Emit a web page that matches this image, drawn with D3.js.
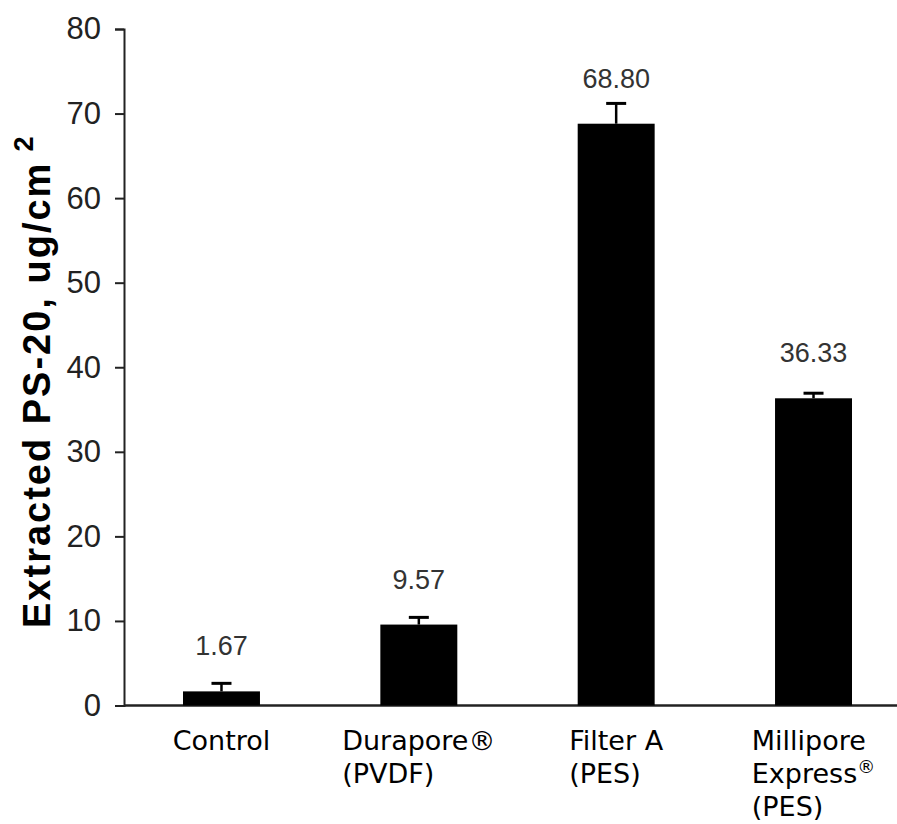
<!DOCTYPE html>
<html>
<head>
<meta charset="utf-8">
<script src="https://cdn.jsdelivr.net/npm/d3@7"></script>
<style>
  html, body { margin: 0; padding: 0; background: #fff; }
</style>
</head>
<body>
<div id="chart"></div>
<script>
// chart data
const categories = ["Control", "Durapore", "Filter A", "Millipore"]
const labelLines = [
    ["Control"],
    ["Durapore\u00AE", "(PVDF)"],
    ["Filter A", "(PES)"],
    ["Millipore", "Express^\u00AE", "(PES)"]
]
const values = [1.67, 9.57, 68.80, 36.33]
const errors = [0.95, 0.85, 2.4, 0.6]
const yTicks = [0, 10, 20, 30, 40, 50, 60, 70, 80]

const width = 897
const height = 824

const svg = d3.select("#chart")
    .append("svg")
    .attr("width", width)
    .attr("height", height)

const y = d3.scaleLinear().domain([0, 80]).range([705.5, 29])
const x = d3.scaleBand()
    .domain(categories)
    .range([183, 852])
    .paddingInner(0.61)
    .paddingOuter(0)

const data = categories.map((c, i) => ({cat: c, value: values[i], err: errors[i], lines: labelLines[i]}))

// y axis
const yAxis = svg.append("g")
    .attr("transform", "translate(124,0)")
    .call(d3.axisLeft(y).tickValues(yTicks).tickSize(9).tickPadding(14))
yAxis.select(".domain").attr("stroke", "#222").attr("stroke-width", 2)
yAxis.selectAll(".tick line").attr("stroke", "#222").attr("stroke-width", 2)
yAxis.selectAll(".tick text")
    .attr("font-family", "'Liberation Sans', Arial, sans-serif")
    .attr("font-size", 31)
    .attr("fill", "#222")

// baseline
svg.append("line")
    .attr("x1", 124).attr("x2", width)
    .attr("y1", y(0)).attr("y2", y(0))
    .attr("stroke", "#222")
    .attr("stroke-width", 2.5)

// bars
svg.append("g")
    .selectAll("rect")
    .data(data)
    .enter()
    .append("rect")
    .attr("x", d => x(d.cat))
    .attr("width", x.bandwidth())
    .attr("y", d => y(d.value))
    .attr("height", d => y(0) - y(d.value))
    .attr("fill", "#000")

// error bars (upper only)
const eb = svg.append("g")
    .selectAll("g")
    .data(data)
    .enter()
    .append("g")
eb.append("line")
    .attr("x1", d => x(d.cat) + x.bandwidth() / 2)
    .attr("x2", d => x(d.cat) + x.bandwidth() / 2)
    .attr("y1", d => y(d.value))
    .attr("y2", d => y(d.value + d.err))
    .attr("stroke", "#000")
    .attr("stroke-width", 2.5)
eb.append("line")
    .attr("x1", d => x(d.cat) + x.bandwidth() / 2 - 10)
    .attr("x2", d => x(d.cat) + x.bandwidth() / 2 + 10)
    .attr("y1", d => y(d.value + d.err))
    .attr("y2", d => y(d.value + d.err))
    .attr("stroke", "#000")
    .attr("stroke-width", 3)

// value labels
svg.append("g")
    .selectAll("text")
    .data(data)
    .enter()
    .append("text")
    .attr("x", d => x(d.cat) + x.bandwidth() / 2)
    .attr("y", d => y(d.value) - 36)
    .attr("text-anchor", "middle")
    .attr("font-family", "'Liberation Sans', Arial, sans-serif")
    .attr("font-size", 27)
    .attr("fill", "#333")
    .text(d => d3.format(".2f")(d.value))

// category labels: left aligned block, centred under its bar
const labels = svg.append("g")
    .selectAll("text")
    .data(data)
    .enter()
    .append("text")
    .attr("font-family", "'DejaVu Sans', Verdana, sans-serif")
    .attr("font-size", 27)
    .attr("fill", "#000")

labels.each(function (d) {
    const t = d3.select(this)
    const rows = d.lines.map((line, i) => {
        const row = t.append("tspan").attr("y", 750 + i * 33)
        if (line.includes("^")) {
            // "^" marks a small superscript part
            const [main, sup] = line.split("^")
            row.append("tspan").text(main)
            row.append("tspan").attr("font-size", 18).attr("dy", -10).text(sup)
        } else {
            row.text(line)
        }
        return row
    })
    const widest = d3.max(rows, r => r.node().getComputedTextLength())
    const left = x(d.cat) + x.bandwidth() / 2 - widest / 2
    rows.forEach(r => r.attr("x", left))
})

// y axis title
const title = svg.append("text")
    .attr("transform", "translate(50,628) rotate(-90)")
    .attr("text-anchor", "start")
    .attr("font-family", "'Liberation Sans', Arial, sans-serif")
    .attr("font-weight", "bold")
    .attr("font-size", 38)
    .attr("letter-spacing", 2)
    .attr("fill", "#000")
title.append("tspan").text("Extracted PS-20, ug/cm")
title.append("tspan")
    .attr("font-size", 27)
    .attr("dx", 10)
    .attr("dy", -17)
    .text("2")
</script>
</body>
</html>
